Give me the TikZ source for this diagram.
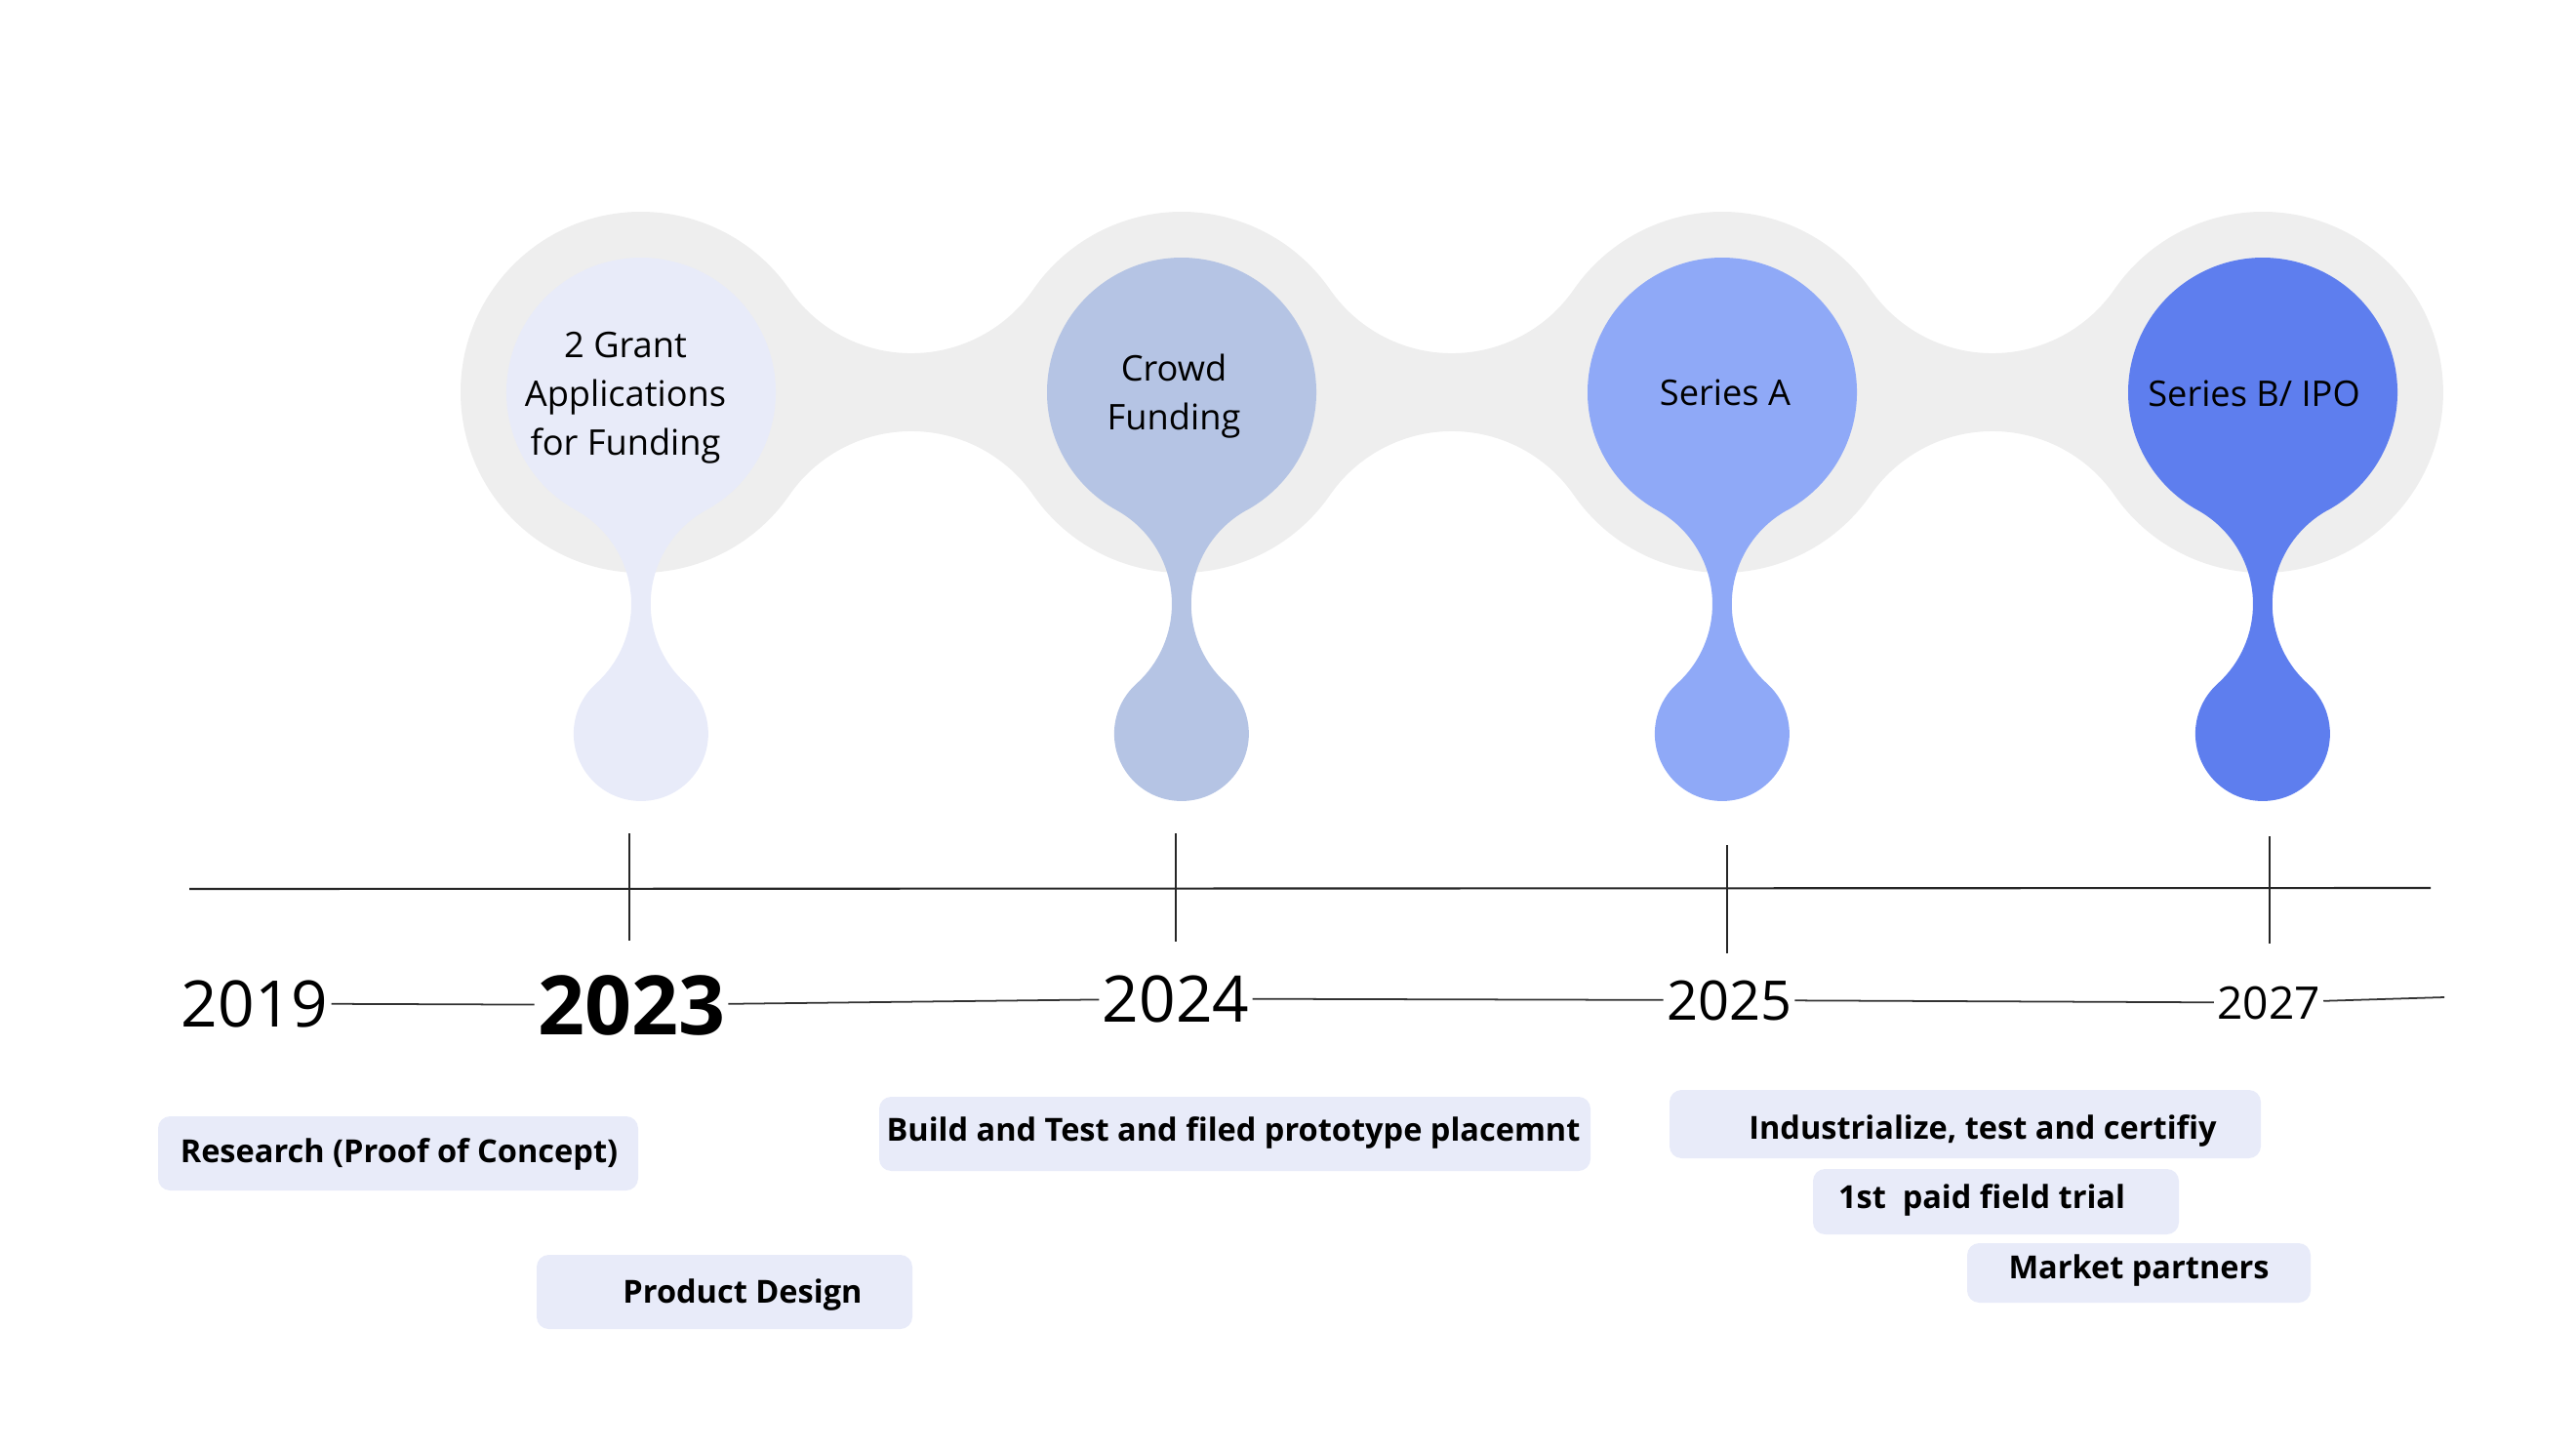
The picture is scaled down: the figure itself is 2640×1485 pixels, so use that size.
\documentclass[tikz,border=0pt]{standalone}
\usepackage{fontspec}
\setmainfont{Open Sans}
\usepackage{tikz}
\definecolor{bandgrey}{HTML}{EEEEEE}
\definecolor{grantlav}{HTML}{E8EBF9}
\definecolor{crowdblue}{HTML}{B5C4E4}
\definecolor{seriesablue}{HTML}{8FA9F7}
\definecolor{seriesbblue}{HTML}{5E7EEE}
\definecolor{taglav}{HTML}{E8EBF9}
\newcommand{\teardrop}[2]{%
  \begin{scope}[shift={(#1,0)}]
    \fill[#2] (66.8,522.8)
      arc[start angle=61.05, end angle=-241.05, radius=138]
      arc[start angle=-61.05, end angle=47.94, radius=110]
      arc[start angle=227.94, end angle=-47.94, radius=69]
      arc[start angle=132.06, end angle=241.05, radius=110] -- cycle;
  \end{scope}%
}
\tikzset{
  bubbletext/.style={font=\fontsize{10.3}{14.2}\selectfont, align=center, inner sep=0pt},
  yeartext/.style={anchor=base, inner sep=0pt, outer sep=1pt},
  tagtext/.style={anchor=base, inner sep=0pt, font=\bfseries\fontsize{9.25}{11}\selectfont},
  tagbox/.style={fill=taglav, rounded corners=3.5pt},
  axisline/.style={line width=0.6pt, black!85},
  yearline/.style={line width=0.5pt, black!80}
}

\begin{document}
\begin{tikzpicture}[x=0.01cm, y=-0.01cm]
    \useasboundingbox (0,0) rectangle (2640,1485);

    % grey band behind the drops
    \fill[bandgrey] (472,402)
      arc[start angle=180, end angle=325.28, radius=185]
      arc[start angle=145.28, end angle=34.72, radius=152]
      arc[start angle=214.72, end angle=325.28, radius=185]
      arc[start angle=145.28, end angle=34.72, radius=152]
      arc[start angle=214.72, end angle=325.28, radius=185]
      arc[start angle=145.28, end angle=34.72, radius=152]
      arc[start angle=214.72, end angle=505.28, radius=185]
      arc[start angle=-34.72, end angle=-145.28, radius=152]
      arc[start angle=34.72, end angle=145.28, radius=185]
      arc[start angle=-34.72, end angle=-145.28, radius=152]
      arc[start angle=34.72, end angle=145.28, radius=185]
      arc[start angle=-34.72, end angle=-145.28, radius=152]
      arc[start angle=34.72, end angle=180, radius=185] -- cycle;

    \teardrop{657}{grantlav} \teardrop{1211}{crowdblue}
    \teardrop{1765}{seriesablue} \teardrop{2319}{seriesbblue}

    \node[bubbletext] (grant) at (641,408) {2 Grant\\Applications\\for Funding};
    \node[bubbletext] (crowd) at (1203,406) {Crowd\\Funding};
    \node[bubbletext] (seriesa) at (1768,402) {Series A};
    \node[bubbletext] (seriesb) at (2310,403) {Series B/ IPO};

    % axis and ticks
    \draw[axisline] (194,911) -- (2491,910);
    \draw[axisline] (645,854) -- (645,964);
    \draw[axisline] (1205,854) -- (1205,965);
    \draw[axisline] (1770,866) -- (1770,977);
    \draw[axisline] (2326,857) -- (2326,967);

    % years
    \node[yeartext, font=\fontsize{18.7}{20}\selectfont] (y2019) at (261,1052) {2019};
    \node[yeartext, font=\bfseries\fontsize{23.9}{26}\selectfont] (y2023) at (647,1060) {2023};
    \node[yeartext, font=\fontsize{18.7}{20}\selectfont] (y2024) at (1205,1047) {2024};
    \node[yeartext, font=\fontsize{15.9}{18}\selectfont] (y2025) at (1772,1045) {2025};
    \node[yeartext, font=\fontsize{13.1}{15}\selectfont] (y2027) at (2325,1044) {2027};
    \coordinate (yend) at (2505,1022);
    \draw[yearline] (y2019) -- (y2023);
    \draw[yearline] (y2023) -- (y2024);
    \draw[yearline] (y2024) -- (y2025);
    \draw[yearline] (y2025) -- (y2027);
    \draw[yearline] (y2027) -- (yend);

    % milestones
    \fill[tagbox] (162,1144) rectangle (654,1220);
    \fill[tagbox] (550,1286) rectangle (935,1362);
    \fill[tagbox] (901,1124) rectangle (1630,1200);
    \fill[tagbox] (1711,1117) rectangle (2317,1187);
    \fill[tagbox] (1858,1198) rectangle (2233,1265);
    \fill[tagbox] (2016,1274) rectangle (2368,1335);
    \node[tagtext] (research) at (409,1191) {Research (Proof of Concept)};
    \node[tagtext] (design) at (761,1335) {Product Design};
    \node[tagtext] (build) at (1264,1169) {Build and Test and filed prototype placemnt};
    \node[tagtext] (industry) at (2032,1167) {Industrialize, test and certifiy};
    \node[tagtext] (trial) at (2031,1238) {1st\ \ paid field trial};
    \node[tagtext] (partners) at (2192,1310) {Market partners};
\end{tikzpicture}
\end{document}
